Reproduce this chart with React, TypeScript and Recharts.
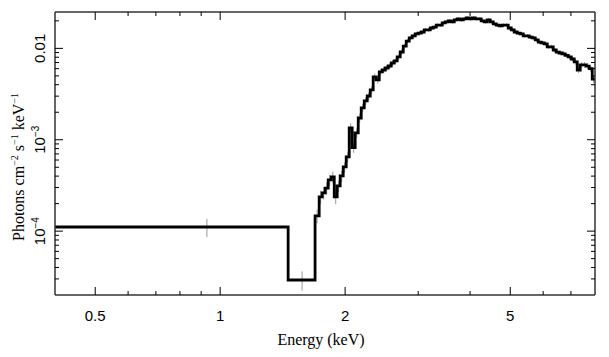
import { ComposedChart, Line, Scatter, ErrorBar, XAxis, YAxis } from "recharts";

// bin edges (keV); last entry closes the last bin
const edges = [
  0.4, 1.458, 1.693, 1.732, 1.761, 1.791, 1.821, 1.852, 1.883, 1.914, 1.946, 1.979,
  2.012, 2.046, 2.08, 2.115, 2.151, 2.187, 2.224, 2.261, 2.299, 2.337, 2.377, 2.417,
  2.457, 2.498, 2.54, 2.583, 2.626, 2.67, 2.715, 2.761, 2.807, 2.854, 2.902, 2.951,
  3.0, 3.051, 3.102, 3.154, 3.207, 3.261, 3.316, 3.371, 3.428, 3.485, 3.544, 3.603,
  3.664, 3.725, 3.788, 3.852, 3.916, 3.981, 4.048, 4.116, 4.185, 4.255, 4.327, 4.399,
  4.473, 4.548, 4.625, 4.702, 4.781, 4.861, 4.943, 5.026, 5.11, 5.196, 5.283, 5.372,
  5.462, 5.554, 5.647, 5.742, 5.838, 5.936, 6.036, 6.137, 6.24, 6.345, 6.451, 6.56,
  6.67, 6.782, 6.896, 7.011, 7.129, 7.249, 7.37, 7.494, 7.62, 7.748, 7.878, 8.0,
];

// photons cm^-2 s^-1 keV^-1 per bin
const flux = [
  1.11e-4, 2.92e-5, 1.47e-4, 2.37e-4, 2.62e-4, 2.96e-4, 3.63e-4, 3.92e-4, 2.37e-4, 3.12e-4,
  4.02e-4, 5.04e-4, 6.48e-4, 1.35e-3, 8.2e-4, 1.19e-3, 1.73e-3, 2.23e-3, 2.66e-3, 3.01e-3,
  3.51e-3, 4.87e-3, 4.51e-3, 5.52e-3, 5.8e-3, 6.1e-3, 6.41e-3, 6.92e-3, 7.28e-3, 8.05e-3,
  9.12e-3, 1.06e-2, 1.2e-2, 1.3e-2, 1.37e-2, 1.44e-2, 1.47e-2, 1.51e-2, 1.59e-2, 1.59e-2,
  1.67e-2, 1.71e-2, 1.8e-2, 1.8e-2, 1.9e-2, 1.95e-2, 2.0e-2, 1.95e-2, 2.05e-2, 2.1e-2,
  2.05e-2, 2.1e-2, 2.15e-2, 2.1e-2, 2.15e-2, 2.1e-2, 2.1e-2, 2.0e-2, 1.95e-2, 2.05e-2,
  1.95e-2, 1.85e-2, 1.8e-2, 1.76e-2, 1.8e-2, 1.8e-2, 1.67e-2, 1.59e-2, 1.51e-2, 1.47e-2,
  1.44e-2, 1.37e-2, 1.37e-2, 1.33e-2, 1.3e-2, 1.24e-2, 1.17e-2, 1.15e-2, 1.12e-2, 1.04e-2,
  1.04e-2, 9.6e-3, 9.1e-3, 8.9e-3, 8.7e-3, 8.4e-3, 8.05e-3, 7.65e-3, 7.1e-3, 5.8e-3,
  6.6e-3, 6.6e-3, 6.4e-3, 6.0e-3, 4.6e-3,
];

const fluxErr = [
  2.5e-5, 7e-6, 2.5e-5, 4e-5, 4e-5, 4.5e-5, 5e-5, 5.5e-5, 4e-5, 4.5e-5,
  5.5e-5, 6.5e-5, 8e-5, 1.6e-4, 1e-4, 1.4e-4, 1.9e-4, 2.3e-4, 2.6e-4, 2.8e-4,
  3.2e-4, 4.2e-4, 3.9e-4, 4.5e-4, 4.6e-4, 4.7e-4, 4.8e-4, 5e-4, 5.1e-4, 5.5e-4,
  6e-4, 6.6e-4, 7.2e-4, 7.6e-4, 7.8e-4, 8e-4, 8e-4, 8e-4, 8.2e-4, 8.2e-4,
  8.4e-4, 8.4e-4, 8.6e-4, 8.6e-4, 8.8e-4, 8.8e-4, 9e-4, 8.8e-4, 9e-4, 9e-4,
  9e-4, 9e-4, 9e-4, 9e-4, 9e-4, 9e-4, 9e-4, 8.8e-4, 8.6e-4, 8.8e-4,
  8.6e-4, 8.4e-4, 8.2e-4, 8e-4, 8.2e-4, 8.2e-4, 7.8e-4, 7.6e-4, 7.4e-4, 7.2e-4,
  7e-4, 6.8e-4, 6.8e-4, 6.6e-4, 6.5e-4, 6.3e-4, 6.1e-4, 6e-4, 6e-4, 5.7e-4,
  5.7e-4, 5.4e-4, 5.3e-4, 5.2e-4, 5.2e-4, 5.1e-4, 5e-4, 5e-4, 4.8e-4, 4.5e-4,
  4.8e-4, 4.8e-4, 4.8e-4, 4.7e-4, 4.3e-4,
];

const xMajor = [0.5, 1, 2, 5];
const xTicks = [0.5, 0.6, 0.7, 0.8, 0.9, 1, 2, 3, 4, 5, 6, 7];
const yMajor = [1e-4, 1e-3, 1e-2];
const yTicks = [
  3e-5, 4e-5, 5e-5, 6e-5, 7e-5, 8e-5, 9e-5, 1e-4,
  2e-4, 3e-4, 4e-4, 5e-4, 6e-4, 7e-4, 8e-4, 9e-4, 1e-3,
  2e-3, 3e-3, 4e-3, 5e-3, 6e-3, 7e-3, 8e-3, 9e-3, 1e-2, 2e-2,
];

const steps = edges.map((e, i) => ({ e, v: flux[Math.min(i, flux.length - 1)] }));
const points = flux.map((v, i) => ({ e: (edges[i] + edges[i + 1]) / 2, v, err: fluxErr[i] }));

const SANS = "'Liberation Sans', Arial, sans-serif";
const SERIF = "'Liberation Serif', 'Times New Roman', serif";

const isMajor = (list: number[], v: number) => list.some((m) => Math.abs(m - v) / m < 1e-6);

function yLabel(v: number) {
  if (Math.abs(v - 1e-2) < 1e-9) return <tspan>0.01</tspan>;
  const exp = Math.round(Math.log10(v));
  return (
    <>
      <tspan>10</tspan>
      <tspan dy={-6} fontSize={10}>{"\u2212" + Math.abs(exp)}</tspan>
    </>
  );
}

const BottomTick = (p: any) => {
  const major = isMajor(xMajor, p.payload.value);
  return (
    <g>
      <line x1={p.x} x2={p.x} y1={p.y} y2={p.y - (major ? 8 : 4)} stroke="#000" />
      {major && (
        <text x={p.x} y={p.y + 26} textAnchor="middle" fontFamily={SANS} fontSize={15} fill="#000">
          {p.payload.value}
        </text>
      )}
    </g>
  );
};

const TopTick = (p: any) => {
  const major = isMajor(xMajor, p.payload.value);
  return <line x1={p.x} x2={p.x} y1={p.y} y2={p.y + (major ? 8 : 4)} stroke="#000" />;
};

const LeftTick = (p: any) => {
  const major = isMajor(yMajor, p.payload.value);
  return (
    <g>
      <line x1={p.x} x2={p.x + (major ? 8 : 4)} y1={p.y} y2={p.y} stroke="#000" />
      {major && (
        <text
          transform={`translate(${p.x - 10},${p.y}) rotate(-90)`}
          textAnchor="middle"
          fontFamily={SANS}
          fontSize={15}
          fill="#000"
        >
          {yLabel(p.payload.value)}
        </text>
      )}
    </g>
  );
};

const RightTick = (p: any) => {
  const major = isMajor(yMajor, p.payload.value);
  return <line x1={p.x} x2={p.x - (major ? 8 : 4)} y1={p.y} y2={p.y} stroke="#000" />;
};

const frame = { stroke: "#333", strokeWidth: 1.5 };

export default function App() {
  return (
    <div style={{ position: "absolute", left: 0, top: 0, width: 609, height: 357, background: "#fff" }}>
      <ComposedChart width={609} height={357} margin={{ top: 0, right: 0, bottom: 0, left: 0 }}>
        <XAxis
          dataKey="e"
          type="number"
          scale="log"
          domain={[0.4, 8]}
          allowDataOverflow
          ticks={xTicks}
          interval={0}
          tickSize={0}
          tickMargin={0}
          tickLine={false}
          axisLine={frame}
          tick={BottomTick}
          height={62}
        />
        <XAxis
          xAxisId="top"
          orientation="top"
          dataKey="e"
          type="number"
          scale="log"
          domain={[0.4, 8]}
          allowDataOverflow
          ticks={xTicks}
          interval={0}
          tickSize={0}
          tickMargin={0}
          tickLine={false}
          axisLine={frame}
          tick={TopTick}
          height={12}
        />
        <YAxis
          type="number"
          scale="log"
          domain={[2e-5, 0.025]}
          allowDataOverflow
          ticks={yTicks}
          interval={0}
          tickSize={0}
          tickMargin={0}
          tickLine={false}
          axisLine={frame}
          tick={LeftTick}
          width={55}
        />
        <YAxis
          yAxisId="right"
          orientation="right"
          type="number"
          scale="log"
          domain={[2e-5, 0.025]}
          allowDataOverflow
          ticks={yTicks}
          interval={0}
          tickSize={0}
          tickMargin={0}
          tickLine={false}
          axisLine={frame}
          tick={RightTick}
          width={14}
        />
        <Scatter data={points} dataKey="v" shape={() => <g />} isAnimationActive={false}>
          <ErrorBar dataKey="err" direction="y" width={0} stroke="#999" strokeWidth={1} />
        </Scatter>
        <Line
          data={steps}
          dataKey="v"
          type="stepAfter"
          stroke="#000"
          strokeWidth={2.8}
          dot={false}
          isAnimationActive={false}
        />
        <Line
          data={steps}
          dataKey="v"
          xAxisId="top"
          yAxisId="right"
          stroke="none"
          dot={false}
          isAnimationActive={false}
        />
      </ComposedChart>
      <svg width={609} height={357} style={{ position: "absolute", left: 0, top: 0, pointerEvents: "none" }}>
        <text x={321} y={345} textAnchor="middle" fontFamily={SERIF} fontSize={16} fill="#000">
          Energy (keV)
        </text>
        <text transform="translate(23.5,167) rotate(-90)" textAnchor="middle" fontFamily={SERIF} fontSize={16} fill="#000">
          Photons cm
          <tspan dy={-6} fontSize={10}>{"\u22122"}</tspan>
          <tspan dy={6}> s</tspan>
          <tspan dy={-6} fontSize={10}>{"\u22121"}</tspan>
          <tspan dy={6}> keV</tspan>
          <tspan dy={-6} fontSize={10}>{"\u22121"}</tspan>
        </text>
      </svg>
    </div>
  );
}
